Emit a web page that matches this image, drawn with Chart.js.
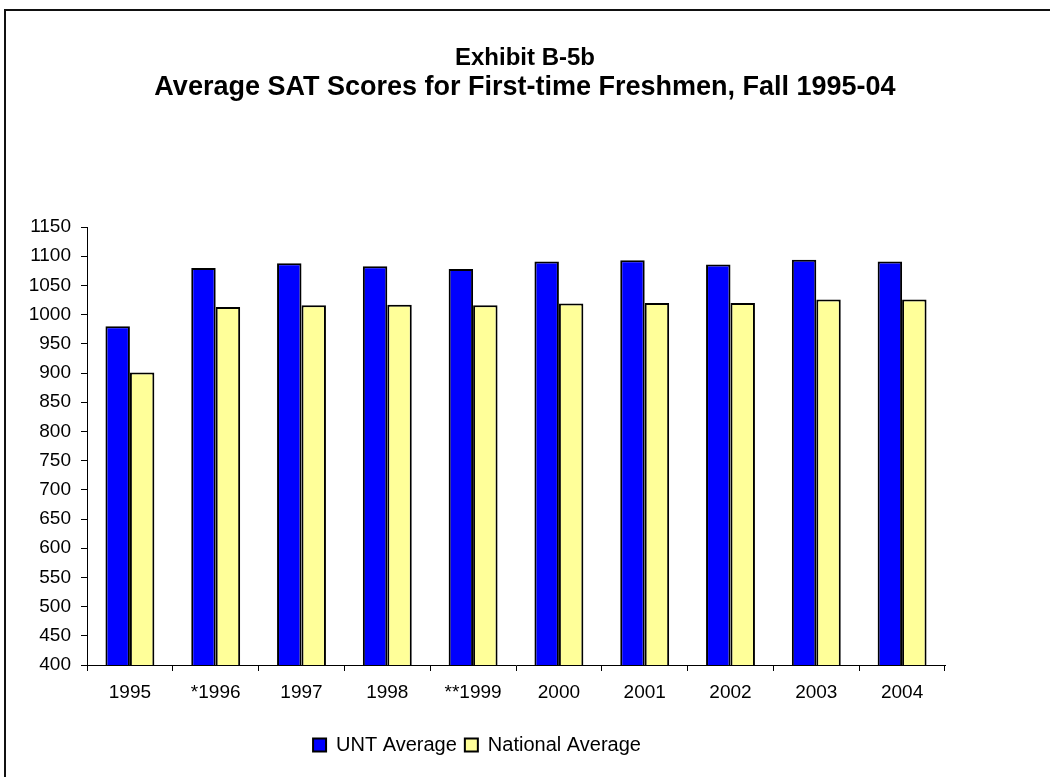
<!DOCTYPE html>
<html>
<head>
<meta charset="utf-8">
<script src="https://cdn.jsdelivr.net/npm/chart.js@4/dist/chart.umd.min.js"></script>
<style>
  html, body { margin: 0; padding: 0; background: #fff; overflow: hidden; }
  #wrap { position: relative; width: 1050px; height: 777px; }
  #frame { position: absolute; left: 4px; top: 9px; width: 1100px; height: 800px;
           border-top: 2px solid #111; border-left: 2px solid #111; }
  canvas { position: absolute; left: 0; top: 0; }
</style>
</head>
<body>
<div id="wrap">
  <div id="frame"></div>
  <canvas id="chart" width="1050" height="777"></canvas>
</div>
<script>
const years = ["1995", "*1996", "1997", "1998", "**1999", "2000", "2001", "2002", "2003", "2004"];
const untAverage = [980, 1080, 1088, 1083, 1078, 1091, 1093, 1086, 1094, 1091];
const nationalAverage = [901, 1013, 1016, 1017, 1016, 1019, 1020, 1020, 1026, 1026];
const titleText = "Exhibit B-5b";
const subtitleText = "Average SAT Scores for First-time Freshmen, Fall 1995-04";

const font = "'Liberation Sans', Arial, sans-serif";

// legend in the original sits a bit left of centre
const shiftLegend = {
  id: "shiftLegend",
  afterLayout(chart) {
    chart.legend.left -= 48;
    chart.legend.right -= 48;
  }
};

new Chart(document.getElementById("chart"), {
  type: "bar",
  data: {
    labels: years,
    datasets: [
      {
        label: "UNT Average",
        data: untAverage,
        backgroundColor: "#0000FF",
        borderColor: "#000",
        borderWidth: 2
      },
      {
        label: "National Average",
        data: nationalAverage,
        backgroundColor: "#FFFF99",
        borderColor: "#000",
        borderWidth: 2
      }
    ]
  },
  options: {
    responsive: false,
    animation: false,
    layout: { padding: { left: 0, right: 0, top: 0, bottom: 12 } },
    datasets: { bar: { categoryPercentage: 0.57, barPercentage: 1 } },
    scales: {
      x: {
        grid: { drawOnChartArea: false, drawTicks: true, tickLength: 6, color: "#000", offset: true },
        border: { color: "#000", width: 1 },
        ticks: { color: "#000", font: { family: font, size: 19 }, padding: 10, maxRotation: 0 },
        afterFit: s => { s.height = 62; }
      },
      y: {
        min: 400,
        max: 1150,
        grid: { drawOnChartArea: false, drawTicks: true, tickLength: 6, color: "#000" },
        border: { color: "#000", width: 1 },
        ticks: { stepSize: 50, color: "#000", font: { family: font, size: 19 }, padding: 10,
                 callback: v => String(v) },
        afterFit: s => { s.width = 87; }
      },
      y2: {
        position: "right",
        display: true,
        grid: { display: false },
        border: { display: false },
        ticks: { display: false },
        afterFit: s => { s.width = 105; }
      }
    },
    plugins: {
      tooltip: { enabled: false },
      title: {
        display: true,
        text: titleText,
        color: "#000",
        font: { family: font, size: 24, weight: "bold", lineHeight: 1.1 },
        padding: { top: 45, bottom: 0 }
      },
      subtitle: {
        display: true,
        text: subtitleText,
        color: "#000",
        font: { family: font, size: 27, weight: "bold", lineHeight: 1.2 },
        padding: { top: 0, bottom: 123.2 }
      },
      legend: {
        position: "bottom",
        labels: {
          color: "#000",
          font: { family: font, size: 20 },
          boxWidth: 13,
          boxHeight: 13,
          padding: 8
        }
      }
    }
  },
  plugins: [shiftLegend]
});
</script>
</body>
</html>
